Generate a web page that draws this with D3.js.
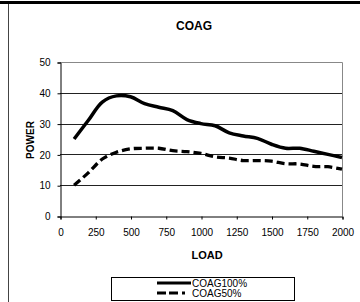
<!doctype html>
<html>
  <head>
    <meta charset='UTF-8'>
    <script src="https://cdn.jsdelivr.net/npm/d3@7"></script>
    <style>
      body { margin: 0; background: #fff; }
      text { font-family: "Liberation Sans", Arial, sans-serif; }
    </style>
  </head>
  <body>
    <svg id='render'></svg>
    <script>
      const loads = [100, 200, 300, 400, 500, 600, 700, 800, 900, 1000,
                     1100, 1200, 1300, 1400, 1500, 1600, 1700, 1800, 1900, 2000];
      const coag100 = [25, 31, 37, 39, 38.7, 36.5, 35.3, 34.2, 31.3, 30,
                       29.3, 27, 26, 25.2, 23.3, 22, 22, 21, 20, 19];
      const coag50 = [10, 14, 18.5, 20.7, 21.8, 22, 22, 21.2, 20.9, 20.3,
                      19.2, 18.8, 18, 18, 17.8, 17, 16.9, 16.1, 16, 15.2];
      const xTicks = [0, 250, 500, 750, 1000, 1250, 1500, 1750, 2000];
      const yTicks = [0, 10, 20, 30, 40, 50];

      const svg = d3.select("#render").attr("width", 360).attr("height", 302);

      // chart frame (clipped at the picture edges)
      svg.append("line").attr("x1", 0).attr("x2", 360).attr("y1", 2.5).attr("y2", 2.5)
        .attr("stroke", "#000").attr("stroke-width", 3);
      svg.append("line").attr("x1", 8.5).attr("x2", 8.5).attr("y1", 4).attr("y2", 302)
        .attr("stroke", "#444");

      const x = d3.scaleLinear().domain([0, 2000]).range([60, 342]);
      const y = d3.scaleLinear().domain([0, 50]).range([216, 62]);

      // gridlines
      svg.append("g").selectAll("line").data(yTicks.filter(d => d > 0 && d < 50))
        .enter().append("line")
        .attr("x1", x(0)).attr("x2", x(2000))
        .attr("y1", d => Math.round(y(d)) + 0.5).attr("y2", d => Math.round(y(d)) + 0.5)
        .attr("stroke", "#222");

      // plot border top/right
      svg.append("path")
        .attr("d", `M${x(0)},${y(50) + 0.5}H${x(2000) + 0.5}V${y(0)}`)
        .attr("fill", "none").attr("stroke", "#888");

      const yAxis = svg.append("g").attr("transform", `translate(${x(0) + 0.5},0.5)`)
        .call(d3.axisLeft(y).tickValues(yTicks).tickSize(3).tickPadding(7).tickFormat(d3.format("d")));
      const xAxis = svg.append("g").attr("transform", `translate(0.5,${y(0) + 0.5})`)
        .call(d3.axisBottom(x).tickValues(xTicks).tickSize(3).tickPadding(9).tickFormat(d3.format("d")));
      [yAxis, xAxis].forEach(a => {
        a.select(".domain").attr("stroke", "#000");
        a.selectAll("line").attr("stroke", "#000");
        a.selectAll("text").attr("font-size", 10).attr("fill", "#000")
          .style("font-family", "'Liberation Sans', Arial, sans-serif");
      });

      const line = d3.line().x((d, i) => x(loads[i])).y(d => y(d)).curve(d3.curveCatmullRom.alpha(0.5));
      svg.append("path").attr("d", line(coag50)).attr("fill", "none")
        .attr("stroke", "#000").attr("stroke-width", 3.3).attr("stroke-dasharray", "8,4");
      svg.append("path").attr("d", line(coag100)).attr("fill", "none")
        .attr("stroke", "#000").attr("stroke-width", 3.5);

      // titles
      svg.append("text").attr("x", 194).attr("y", 30).attr("text-anchor", "middle")
        .attr("font-size", 12).attr("font-weight", "bold").text("COAG");
      svg.append("text").attr("x", 207).attr("y", 259).attr("text-anchor", "middle")
        .attr("font-size", 11).attr("font-weight", "bold").text("LOAD");
      svg.append("text").attr("transform", "translate(34,140) rotate(-90)").attr("text-anchor", "middle")
        .attr("font-size", 10).attr("font-weight", "bold").text("POWER");

      // legend
      const legend = svg.append("g");
      legend.append("rect").attr("x", 111.5).attr("y", 277.5).attr("width", 183).attr("height", 23)
        .attr("fill", "#fff").attr("stroke", "#000");
      const names = ["COAG100%", "COAG50%"];
      const dashes = [null, "9,3,9,4,3,40"];
      names.forEach((n, i) => {
        const ly = 283 + i * 10;
        legend.append("line").attr("x1", 157).attr("x2", 191).attr("y1", ly).attr("y2", ly)
          .attr("stroke", "#000").attr("stroke-width", 3).attr("stroke-dasharray", dashes[i]);
        legend.append("text").attr("x", 192).attr("y", ly + 3.5).attr("font-size", 10).text(n);
      });
    </script>
  </body>
</html>
